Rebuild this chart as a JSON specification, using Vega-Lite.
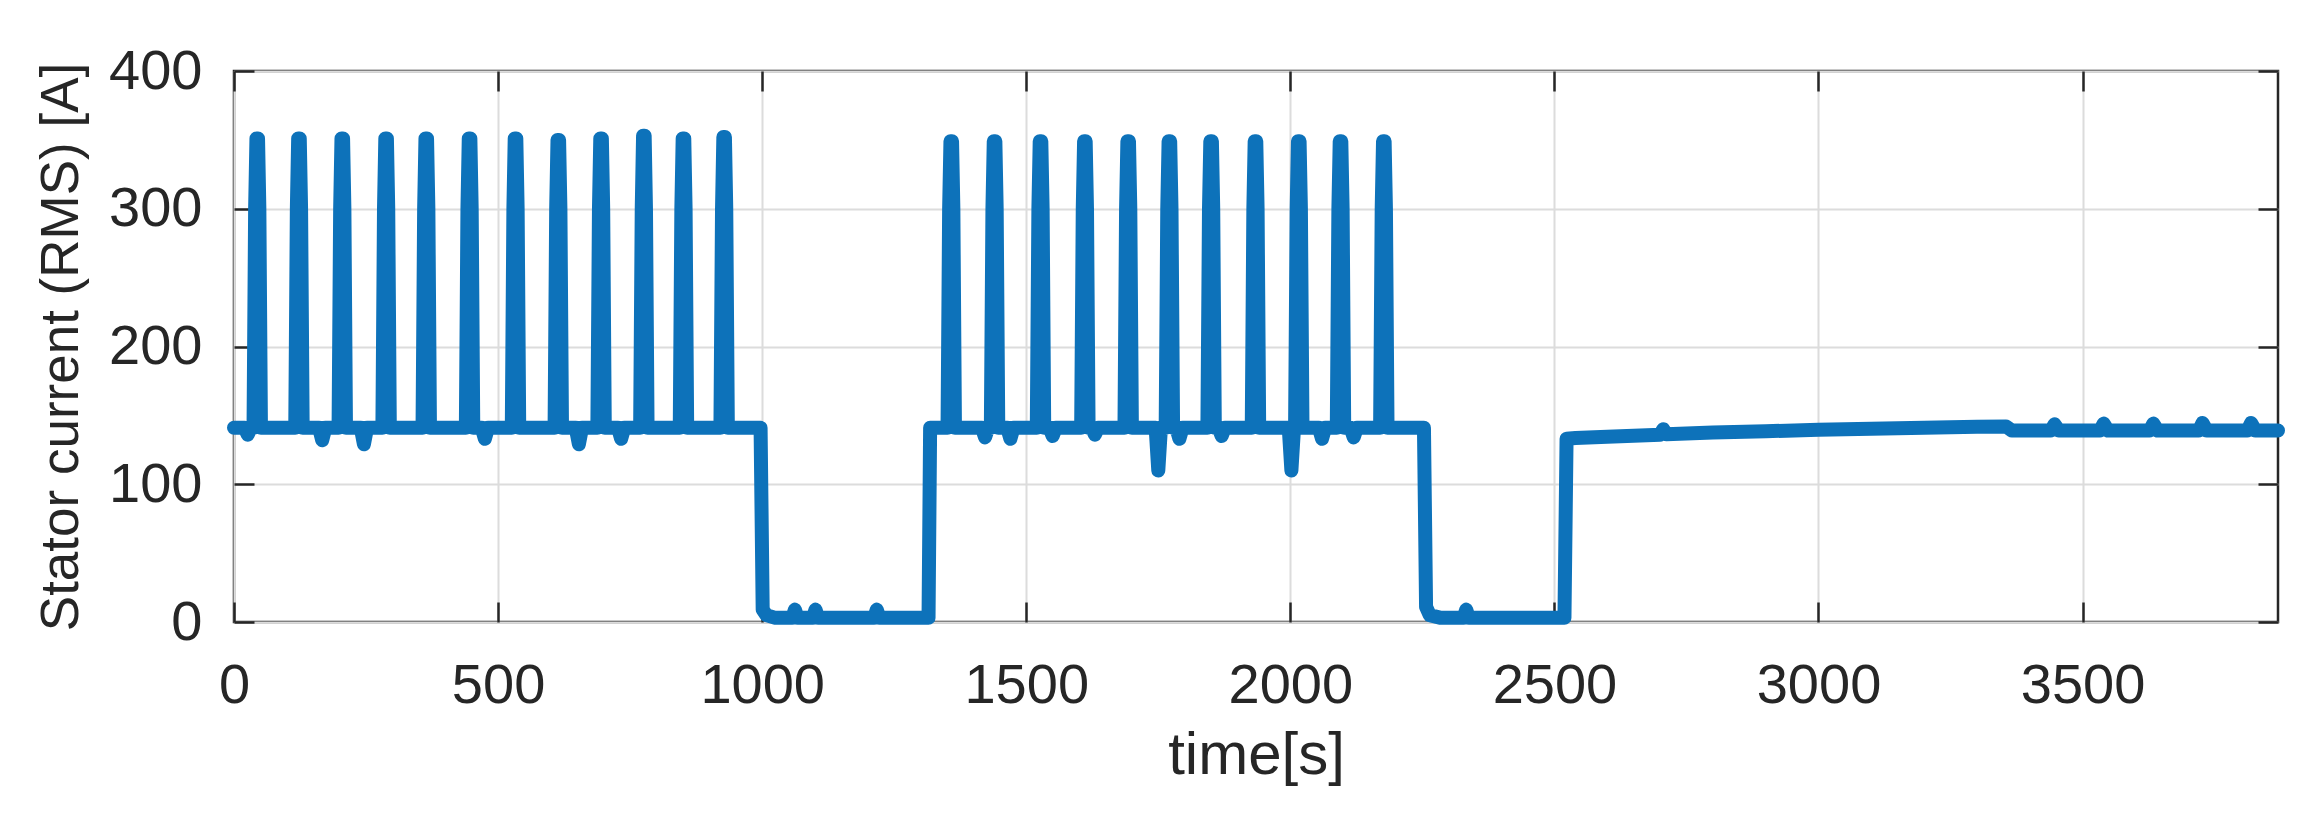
{
  "$schema": "https://vega.github.io/schema/vega-lite/v6.json",
  "width": 2044,
  "height": 551,
  "autosize": {"type": "none"},
  "padding": {"left": 234, "top": 71, "right": 23, "bottom": 199},
  "background": "white",
  "config": {
    "view": {"stroke": "#262626", "strokeWidth": 2.5},
    "font": "Liberation Sans",
    "axis": {
      "labelFont": "Liberation Sans",
      "titleFont": "Liberation Sans",
      "labelFontSize": 56,
      "labelColor": "#262626",
      "titleColor": "#262626",
      "titleFontWeight": "normal",
      "labelFlush": false,
      "domain": false,
      "tickColor": "#262626",
      "tickWidth": 2.5,
      "tickSize": -20,
      "gridColor": "#dcdcdc",
      "gridWidth": 2
    }
  },
  "data": {
    "values": [
      {"t":0,"v":141},{"t":20,"v":141},{"t":26,"v":136},{"t":32,"v":141},
      {"t":37,"v":141},{"t":40,"v":300},{"t":42.5,"v":351},{"t":45.5,"v":351},{"t":48,"v":300},{"t":51,"v":141},
      {"t":116,"v":141},{"t":119,"v":300},{"t":121.5,"v":351},{"t":124.5,"v":351},{"t":127,"v":300},{"t":130,"v":141},
      {"t":161,"v":141},{"t":167,"v":132},{"t":173,"v":141},
      {"t":198,"v":141},{"t":201,"v":300},{"t":203.5,"v":351},{"t":206.5,"v":351},{"t":209,"v":300},{"t":212,"v":141},
      {"t":240,"v":141},{"t":246,"v":129},{"t":252,"v":141},
      {"t":281,"v":141},{"t":284,"v":300},{"t":286.5,"v":351},{"t":289.5,"v":351},{"t":292,"v":300},{"t":295,"v":141},
      {"t":357,"v":141},{"t":360,"v":300},{"t":362.5,"v":351},{"t":365.5,"v":351},{"t":368,"v":300},{"t":371,"v":141},
      {"t":439,"v":141},{"t":442,"v":300},{"t":444.5,"v":351},{"t":447.5,"v":351},{"t":450,"v":300},{"t":453,"v":141},
      {"t":469,"v":141},{"t":475,"v":133},{"t":481,"v":141},
      {"t":526,"v":141},{"t":529,"v":300},{"t":531.5,"v":351},{"t":534.5,"v":351},{"t":537,"v":300},{"t":540,"v":141},
      {"t":607,"v":141},{"t":610,"v":300},{"t":612.5,"v":350},{"t":615.5,"v":350},{"t":618,"v":300},{"t":621,"v":141},
      {"t":647,"v":141},{"t":653,"v":129},{"t":659,"v":141},
      {"t":688,"v":141},{"t":691,"v":300},{"t":693.5,"v":351},{"t":696.5,"v":351},{"t":699,"v":300},{"t":702,"v":141},
      {"t":727,"v":141},{"t":733,"v":133},{"t":739,"v":141},
      {"t":769,"v":141},{"t":772,"v":300},{"t":774.5,"v":353},{"t":777.5,"v":353},{"t":780,"v":300},{"t":783,"v":141},
      {"t":844,"v":141},{"t":847,"v":300},{"t":849.5,"v":351},{"t":852.5,"v":351},{"t":855,"v":300},{"t":858,"v":141},
      {"t":921,"v":141},{"t":924,"v":300},{"t":926.5,"v":352},{"t":929.5,"v":352},{"t":932,"v":300},{"t":935,"v":141},
      {"t":997,"v":141},{"t":1001,"v":9},{"t":1008,"v":5},{"t":1025,"v":3},{"t":1057,"v":3},{"t":1062,"v":9},{"t":1067,"v":3},
      {"t":1096,"v":3},{"t":1101,"v":9},{"t":1106,"v":3},{"t":1212,"v":3},{"t":1217,"v":9},{"t":1222,"v":3},{"t":1315,"v":3},
      {"t":1318,"v":141},
      {"t":1351,"v":141},{"t":1354,"v":300},{"t":1356.5,"v":349},{"t":1359.5,"v":349},{"t":1362,"v":300},{"t":1365,"v":141},
      {"t":1416,"v":141},{"t":1422,"v":134},{"t":1428,"v":141},
      {"t":1433,"v":141},{"t":1436,"v":300},{"t":1438.5,"v":349},{"t":1441.5,"v":349},{"t":1444,"v":300},{"t":1447,"v":141},
      {"t":1464,"v":141},{"t":1470,"v":133},{"t":1476,"v":141},
      {"t":1520,"v":141},{"t":1523,"v":300},{"t":1525.5,"v":349},{"t":1528.5,"v":349},{"t":1531,"v":300},{"t":1534,"v":141},
      {"t":1544,"v":141},{"t":1550,"v":135},{"t":1556,"v":141},
      {"t":1604,"v":141},{"t":1607,"v":300},{"t":1609.5,"v":349},{"t":1612.5,"v":349},{"t":1615,"v":300},{"t":1618,"v":141},
      {"t":1624,"v":141},{"t":1630,"v":136},{"t":1636,"v":141},
      {"t":1686,"v":141},{"t":1689,"v":300},{"t":1691.5,"v":349},{"t":1694.5,"v":349},{"t":1697,"v":300},{"t":1700,"v":141},
      {"t":1745,"v":141},{"t":1750,"v":110},{"t":1755,"v":141},
      {"t":1764,"v":141},{"t":1767,"v":300},{"t":1769.5,"v":349},{"t":1772.5,"v":349},{"t":1775,"v":300},{"t":1778,"v":141},
      {"t":1784,"v":141},{"t":1790,"v":133},{"t":1796,"v":141},
      {"t":1843,"v":141},{"t":1846,"v":300},{"t":1848.5,"v":349},{"t":1851.5,"v":349},{"t":1854,"v":300},{"t":1857,"v":141},
      {"t":1864,"v":141},{"t":1870,"v":135},{"t":1876,"v":141},
      {"t":1927,"v":141},{"t":1930,"v":300},{"t":1932.5,"v":349},{"t":1935.5,"v":349},{"t":1938,"v":300},{"t":1941,"v":141},
      {"t":1997,"v":141},{"t":2002,"v":110},{"t":2007,"v":141},
      {"t":2009,"v":141},{"t":2012,"v":300},{"t":2014.5,"v":349},{"t":2017.5,"v":349},{"t":2020,"v":300},{"t":2023,"v":141},
      {"t":2054,"v":141},{"t":2060,"v":133},{"t":2066,"v":141},
      {"t":2088,"v":141},{"t":2091,"v":300},{"t":2093.5,"v":349},{"t":2096.5,"v":349},{"t":2099,"v":300},{"t":2102,"v":141},
      {"t":2114,"v":141},{"t":2120,"v":134},{"t":2126,"v":141},
      {"t":2170,"v":141},{"t":2173,"v":300},{"t":2175.5,"v":349},{"t":2178.5,"v":349},{"t":2181,"v":300},{"t":2184,"v":141},
      {"t":2253,"v":141},{"t":2257,"v":11},{"t":2264,"v":5},{"t":2285,"v":3},{"t":2328,"v":3},{"t":2333,"v":9},{"t":2338,"v":3},
      {"t":2519,"v":3},{"t":2523,"v":133},
      {"t":2540,"v":133.5},{"t":2600,"v":134.5},{"t":2700,"v":136},{"t":2706,"v":140},{"t":2712,"v":136.3},
      {"t":2800,"v":137.5},{"t":2900,"v":138.5},{"t":3000,"v":139.5},{"t":3100,"v":140.3},{"t":3200,"v":141},
      {"t":3300,"v":141.8},{"t":3355,"v":142},{"t":3366,"v":139},
      {"t":3440,"v":139},{"t":3447,"v":143.5},{"t":3455,"v":139},
      {"t":3533,"v":139},{"t":3540,"v":144},{"t":3548,"v":139},
      {"t":3627,"v":139},{"t":3634,"v":144},{"t":3642,"v":139},
      {"t":3720,"v":139},{"t":3727,"v":144.5},{"t":3735,"v":139},
      {"t":3812,"v":139},{"t":3819,"v":144.5},{"t":3827,"v":139},
      {"t":3870,"v":139}
    ]
  },
  "layer": [
    {
      "mark": {"type": "line", "color": "#0d72ba", "strokeWidth": 14, "strokeCap": "round", "strokeJoin": "round", "clip": false},
      "encoding": {
        "x": {
          "field": "t", "type": "quantitative",
          "scale": {"domain": [0, 3870], "nice": false, "zero": false},
          "axis": {"orient": "bottom", "values": [0,500,1000,1500,2000,2500,3000,3500], "format": "d", "title": "time[s]", "titleFontSize": 60, "labelPadding": 56, "titlePadding": 13, "grid": true}
        },
        "y": {
          "field": "v", "type": "quantitative",
          "scale": {"domain": [0, 400], "nice": false},
          "axis": {"orient": "left", "values": [0,100,200,300,400], "format": "d", "title": "Stator current (RMS) [A]", "titleFontSize": 53, "labelPadding": 52, "titlePadding": 20, "grid": true}
        }
      }
    },
    {
      "mark": {"type": "line", "opacity": 0},
      "encoding": {
        "x": {
          "field": "t", "type": "quantitative",
          "axis": {"orient": "top", "values": [0,500,1000,1500,2000,2500,3000,3500], "labels": false, "title": null, "grid": false}
        },
        "y": {
          "field": "v", "type": "quantitative",
          "axis": {"orient": "right", "values": [0,100,200,300,400], "labels": false, "title": null, "grid": false}
        }
      }
    }
  ],
  "resolve": {"axis": {"x": "independent", "y": "independent"}}
}
